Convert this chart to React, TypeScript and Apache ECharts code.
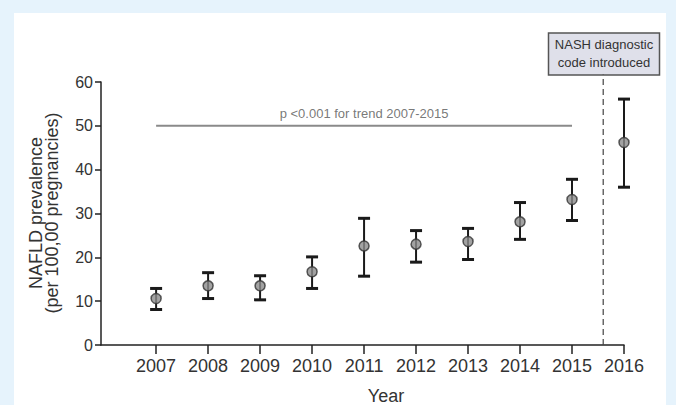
import React, { useEffect, useRef } from "react";
import * as echarts from "echarts";

const years = [2007, 2008, 2009, 2010, 2011, 2012, 2013, 2014, 2015, 2016];
const prevalence = [10.6, 13.5, 13.5, 16.7, 22.6, 23.0, 23.6, 28.1, 33.2, 46.2];
const lowerCI = [8.1, 10.6, 10.3, 12.9, 15.7, 18.9, 19.5, 24.1, 28.4, 36.0];
const upperCI = [12.9, 16.5, 15.8, 20.1, 28.9, 26.1, 26.6, 32.5, 37.8, 56.1];
const yTicks = [0, 10, 20, 30, 40, 50, 60];
const trendYears = [2007, 2015];
const trendLevel = 50;
const trendLabel = "p <0.001 for trend 2007-2015";
const codeChangeYear = 2015.6;
const codeChangeTop = 61.7;
const boxLines = ["NASH diagnostic", "code introduced"];
const yName = ["NAFLD prevalence", "(per 100,00 pregnancies)"];
const xName = "Year";

const FONT = "'Liberation Sans', Arial, sans-serif";

export default function App() {
  const ref = useRef<HTMLDivElement>(null);
  useEffect(() => {
    if (!ref.current) return;
    const chart = echarts.init(ref.current, null, { renderer: "svg" });
    const errData = years.map((y, i) => [y, lowerCI[i], upperCI[i]]);
    chart.setOption({
      animation: false,
      textStyle: { fontFamily: FONT },
      grid: { left: 101, right: 52, top: 82, bottom: 60, containLabel: false },
      xAxis: {
        type: "value",
        min: 2005.94,
        max: 2016,
        splitLine: { show: false },
        axisLine: { show: true, onZero: false, lineStyle: { color: "#222", width: 1.5 } },
        axisTick: { show: true, customValues: years, length: 9, lineStyle: { color: "#222", width: 1.5 } },
        axisLabel: {
          customValues: years,
          color: "#333",
          fontSize: 18,
          margin: 12,
          fontFamily: FONT,
          formatter: (v: number) => String(Math.round(v)),
        },
      },
      yAxis: {
        type: "value",
        min: 0,
        max: 60,
        interval: 10,
        splitLine: { show: false },
        axisLine: { show: true, lineStyle: { color: "#222", width: 1.5 } },
        axisTick: { show: true, length: 6, lineStyle: { color: "#222", width: 1.5 } },
        axisLabel: {
          color: "#333",
          fontSize: 16,
          margin: 8,
          fontFamily: FONT,
          customValues: yTicks,
        },
      },
      graphic: [
        {
          type: "text",
          x: 44,
          y: 213,
          rotation: Math.PI / 2,
          style: {
            text: yName.join("\n"),
            font: `18px ${FONT}`,
            fill: "#333",
            align: "center",
            verticalAlign: "middle",
            lineHeight: 16,
          },
        },
        {
          type: "text",
          x: 386,
          y: 396,
          style: {
            text: xName,
            font: `18px ${FONT}`,
            fill: "#333",
            align: "center",
            verticalAlign: "middle",
          },
        },
        {
          type: "rect",
          shape: { x: 548.5, y: 33, width: 111, height: 42 },
          style: { fill: "#dfe0ea", stroke: "#555", lineWidth: 1.5 },
        },
        {
          type: "text",
          x: 604,
          y: 53,
          style: {
            text: boxLines.join("\n"),
            font: `13px ${FONT}`,
            fill: "#333",
            align: "center",
            verticalAlign: "middle",
            lineHeight: 18,
          },
        },
      ],
      series: [
        {
          type: "line",
          data: trendYears.map((y) => [y, trendLevel]),
          symbol: "none",
          lineStyle: { color: "#8a8a8a", width: 2 },
          silent: true,
        },
        {
          type: "scatter",
          data: [[(trendYears[0] + trendYears[1]) / 2, trendLevel]],
          symbolSize: 0,
          label: {
            show: true,
            position: "top",
            distance: 6,
            formatter: trendLabel,
            color: "#555",
            fontSize: 13,
            fontFamily: FONT,
          },
        },
        {
          type: "line",
          data: [
            [codeChangeYear, 0],
            [codeChangeYear, codeChangeTop],
          ],
          symbol: "none",
          clip: false,
          lineStyle: { color: "#444", width: 1.2, type: [6, 4] },
          silent: true,
        },
        {
          type: "custom",
          data: errData,
          clip: false,
          renderItem: (params: any, api: any) => {
            const x = api.value(0);
            const lo = api.coord([x, api.value(1)]);
            const hi = api.coord([x, api.value(2)]);
            const hw = 6;
            const st = { stroke: "#1a1a1a", lineWidth: 2 };
            const capSt = { stroke: "#1a1a1a", lineWidth: 3 };
            return {
              type: "group",
              children: [
                { type: "line", shape: { x1: hi[0], y1: hi[1], x2: lo[0], y2: lo[1] }, style: st },
                { type: "line", shape: { x1: hi[0] - hw, y1: hi[1], x2: hi[0] + hw, y2: hi[1] }, style: capSt },
                { type: "line", shape: { x1: lo[0] - hw, y1: lo[1], x2: lo[0] + hw, y2: lo[1] }, style: capSt },
              ],
            };
          },
          z: 3,
        },
        {
          type: "scatter",
          data: years.map((y, i) => [y, prevalence[i]]),
          symbol: "circle",
          symbolSize: 10,
          clip: false,
          itemStyle: { color: "#8c8c8c", borderColor: "#333", borderWidth: 1.5 },
          z: 4,
        },
      ],
    });
    return () => chart.dispose();
  }, []);
  return (
    <div style={{ position: "fixed", left: 0, top: 0, width: 676, height: 405, background: "#e6f3fc", overflow: "hidden" }}>
      <div style={{ position: "absolute", left: 14, top: 13, width: 652, height: 392, background: "#ffffff" }} />
      <div ref={ref} style={{ position: "absolute", left: 0, top: 0, width: 676, height: 405 }} />
    </div>
  );
}
